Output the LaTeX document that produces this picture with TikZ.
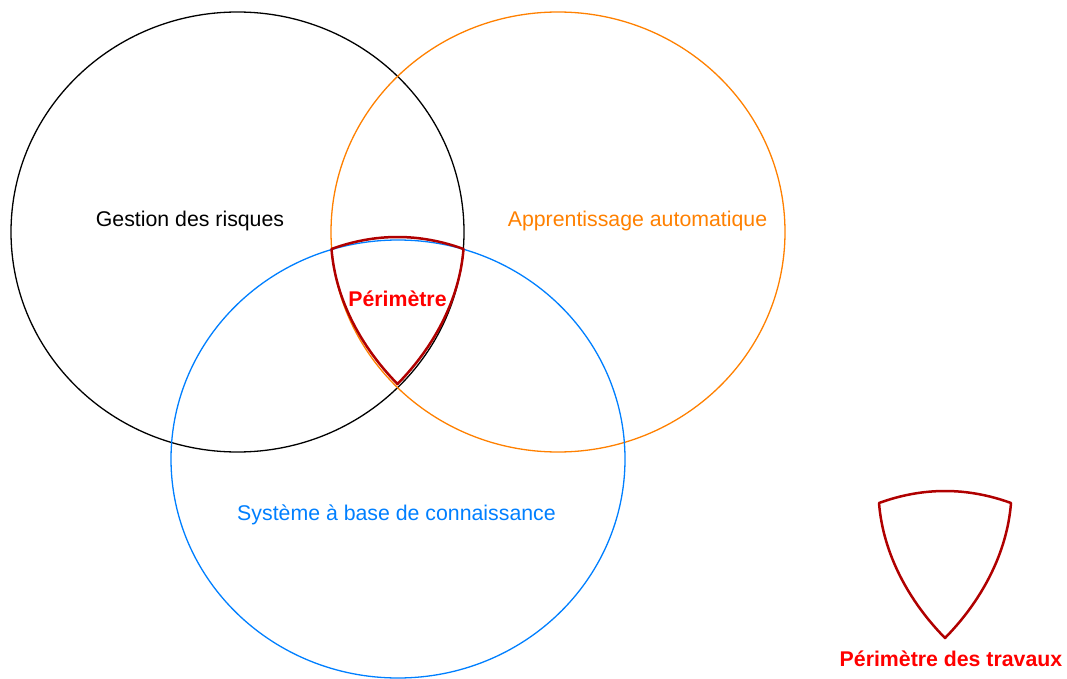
\documentclass[tikz,border=0pt]{standalone}
\usepackage{fontspec}
\setmainfont{Liberation Sans}
\definecolor{orng}{RGB}{255,128,0}
\definecolor{blu}{RGB}{0,127,255}
\definecolor{dred}{RGB}{176,0,0}
\definecolor{bred}{RGB}{255,0,0}
\begin{document}
\begin{tikzpicture}[x=1pt,y=-1pt,
  circ/.style={line width=1.3pt},
  lbl/.style={font=\fontsize{21.3}{25}\selectfont, anchor=base, inner sep=0pt},
  blbl/.style={lbl, font=\fontsize{21.3}{25}\selectfont\bfseries, text=bred},
  perim/.style={draw=dred, line width=2.5pt, line join=round}]
\useasboundingbox (0,0) rectangle (1067,679);
% circles
\draw[circ, black] (237.5,232) ellipse [x radius=226.5pt, y radius=220pt];
\draw[circ, orng] (558,232) ellipse [x radius=227pt, y radius=220pt];
\draw[circ, blu] (398,459) ellipse [x radius=227pt, y radius=219pt];
% labels
\node[lbl] (gr) at (190,226.7) {Gestion des risques};
\node[lbl, text=orng] (aa) at (637.5,226.7) {Apprentissage automatique};
\node[lbl, text=blu] (sb) at (396.5,520) {Système à base de connaissance};
% perimeter shape
\draw[perim] (331.5,249) .. controls (375.5,233) and (419.5,233) .. (463.5,249)
  .. controls (459.5,299.7) and (433.7,347.2) .. (397.5,384)
  .. controls (361.3,347.2) and (335.5,299.7) .. cycle;
\node[blbl] (pm) at (397.5,306) {Périmètre};
% legend shape
\begin{scope}[shift={(547.5,254)}]
\draw[perim] (331.5,249) .. controls (375.5,233) and (419.5,233) .. (463.5,249)
  .. controls (459.5,299.7) and (433.7,347.2) .. (397.5,384)
  .. controls (361.3,347.2) and (335.5,299.7) .. cycle;
\end{scope}
\node[blbl] (pt) at (951,666.7) {Périmètre des travaux};
\end{tikzpicture}
\end{document}
